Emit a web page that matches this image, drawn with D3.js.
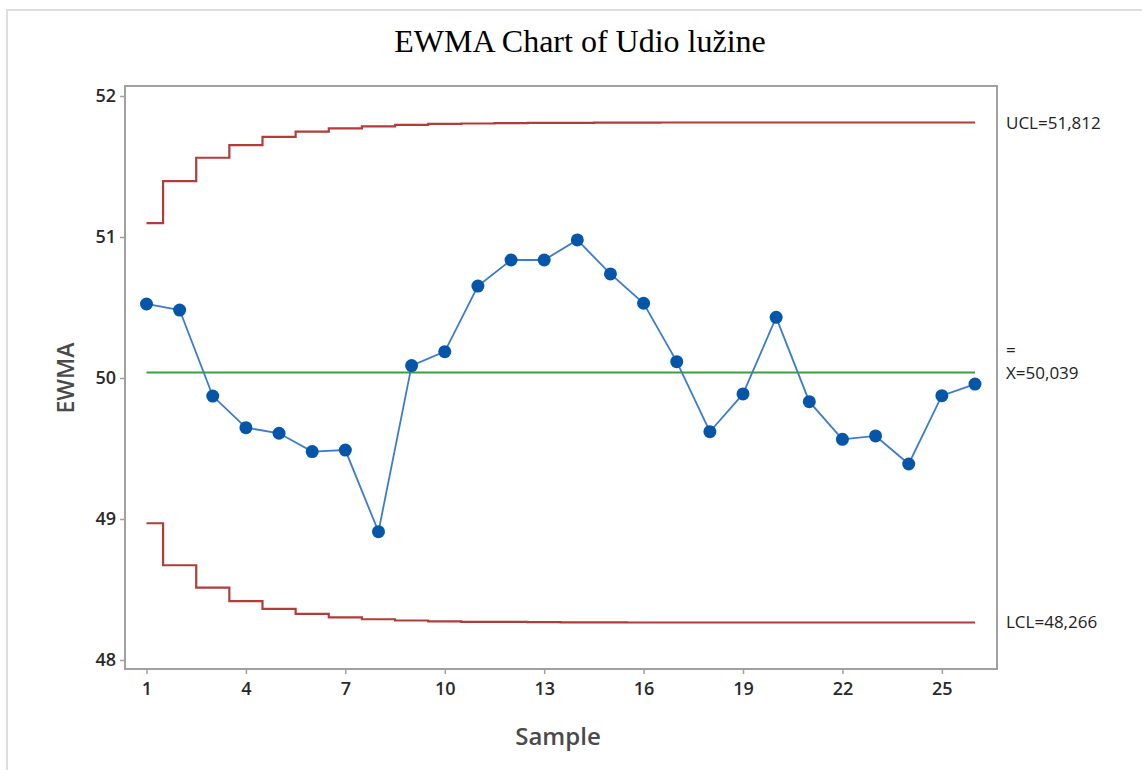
<!DOCTYPE html>
<html>
<head>
<meta charset="utf-8">
<script src="https://cdn.jsdelivr.net/npm/d3@7"></script>
<style>
  html, body { margin: 0; padding: 0; background: #fff; }
  svg { display: block; }
</style>
</head>
<body>
<svg id="chart" width="1142" height="770"></svg>
<script>
// ---- data ----
const samples = [1,2,3,4,5,6,7,8,9,10,11,12,13,14,15,16,17,18,19,20,21,22,23,24,25,26];
const ewma = [50.525, 50.482, 49.872, 49.648, 49.608, 49.478, 49.489, 48.910, 50.088, 50.187,
              50.652, 50.837, 50.837, 50.979, 50.738, 50.530, 50.116, 49.619, 49.887, 50.430,
              49.832, 49.565, 49.589, 49.390, 49.875, 49.957];
const ucl = [51.098, 51.396, 51.562, 51.652, 51.710, 51.748, 51.770, 51.784, 51.795, 51.802,
             51.805, 51.808, 51.809, 51.810, 51.811, 51.811, 51.812, 51.812, 51.812, 51.812,
             51.812, 51.812, 51.812, 51.812, 51.812, 51.812];
const lcl = [48.970, 48.672, 48.514, 48.418, 48.362, 48.327, 48.303, 48.289, 48.280, 48.274,
             48.271, 48.270, 48.268, 48.267, 48.267, 48.266, 48.266, 48.266, 48.266, 48.266,
             48.266, 48.266, 48.266, 48.266, 48.266, 48.266];
const centerValue = 50.039;
const xTicks = [1, 4, 7, 10, 13, 16, 19, 22, 25];
const yTicks = [48, 49, 50, 51, 52];
const labels = { title: "EWMA Chart of Udio lužine", x: "Sample", y: "EWMA",
                 ucl: "UCL=51,812", center: "X=50,039", lcl: "LCL=48,266" };

// ---- layout ----
const svg = d3.select("#chart");
const plot = { left: 125, top: 86, right: 997, bottom: 669 };

// outer frame
svg.append("path")
  .attr("d", "M7,770 L7,10 L1142,10")
  .attr("fill", "none").attr("stroke", "#dedede").attr("stroke-width", 2);

const x = d3.scaleLinear().domain([1, 26]).range([146.5, 975]);
const y = d3.scaleLinear().domain([48, 52]).range([660, 96]);

// title
svg.append("text")
  .attr("x", 580).attr("y", 52)
  .attr("text-anchor", "middle")
  .attr("font-family", "'Liberation Serif', 'Times New Roman', serif")
  .attr("font-size", 32).attr("fill", "#000")
  .text(labels.title);

// plot frame
svg.append("rect")
  .attr("x", plot.left).attr("y", plot.top)
  .attr("width", plot.right - plot.left).attr("height", plot.bottom - plot.top)
  .attr("fill", "none").attr("stroke", "#a0a0a0").attr("stroke-width", 2);

const tickFont = "'Open Sans', 'Noto Sans', sans-serif";

// axes
const yAxis = d3.axisLeft(y).tickValues(yTicks).tickSize(5).tickPadding(4).tickFormat(d3.format("d"));
const gy = svg.append("g").attr("transform", `translate(${plot.left},0)`).call(yAxis);
gy.select(".domain").remove();
gy.selectAll(".tick line").attr("stroke", "#a0a0a0").attr("stroke-width", 1.5);
gy.selectAll(".tick text").attr("font-family", tickFont).attr("font-size", 18)
  .attr("font-weight", 600).attr("fill", "#2a2a2a");

const xAxis = d3.axisBottom(x).tickValues(xTicks).tickSize(5).tickPadding(8).tickFormat(d3.format("d"));
const gx = svg.append("g").attr("transform", `translate(0,${plot.bottom})`).call(xAxis);
gx.select(".domain").remove();
gx.selectAll(".tick line").attr("stroke", "#a0a0a0").attr("stroke-width", 1.5);
gx.selectAll(".tick text").attr("font-family", tickFont).attr("font-size", 18)
  .attr("font-weight", 600).attr("fill", "#2a2a2a");

// axis titles
svg.append("text")
  .attr("x", 558).attr("y", 745)
  .attr("text-anchor", "middle")
  .attr("font-family", tickFont).attr("font-size", 24).attr("font-weight", 600).attr("fill", "#4a4a4a")
  .text(labels.x);
svg.append("text")
  .attr("transform", "translate(74,378) rotate(-90)")
  .attr("text-anchor", "middle")
  .attr("font-family", tickFont).attr("font-size", 23).attr("font-weight", 600).attr("fill", "#4a4a4a")
  .text(labels.y);

// control limits (step lines)
const stepLine = d3.line().x((d, i) => x(samples[i])).y(d => y(d)).curve(d3.curveStep);
svg.append("path").datum(ucl).attr("d", stepLine)
  .attr("fill", "none").attr("stroke", "#b03c3c").attr("stroke-width", 2.2);
svg.append("path").datum(lcl).attr("d", stepLine)
  .attr("fill", "none").attr("stroke", "#b03c3c").attr("stroke-width", 2.2);

// center line
svg.append("line")
  .attr("x1", x(samples[0])).attr("x2", x(samples[samples.length - 1]))
  .attr("y1", y(centerValue)).attr("y2", y(centerValue))
  .attr("stroke", "#3a9e44").attr("stroke-width", 2.2);

// EWMA line and points
const ewLine = d3.line().x((d, i) => x(samples[i])).y(d => y(d));
svg.append("path").datum(ewma).attr("d", ewLine)
  .attr("fill", "none").attr("stroke", "#3b7dc8").attr("stroke-width", 1.8);
svg.append("g").selectAll("circle").data(ewma).join("circle")
  .attr("cx", (d, i) => x(samples[i])).attr("cy", d => y(d))
  .attr("r", 6.5).attr("fill", "#0556a8");

// right labels
const rl = svg.append("g").attr("font-family", tickFont).attr("font-size", 17).attr("fill", "#222");
rl.append("text").attr("x", 1006).attr("y", y(ucl[ucl.length - 1]) + 6).text(labels.ucl);
rl.append("text").attr("x", 1006).attr("y", y(centerValue) - 17).text("=");
rl.append("text").attr("x", 1006).attr("y", y(centerValue) + 6).text(labels.center);
rl.append("text").attr("x", 1006).attr("y", y(lcl[lcl.length - 1]) + 6).text(labels.lcl);
</script>
</body>
</html>
